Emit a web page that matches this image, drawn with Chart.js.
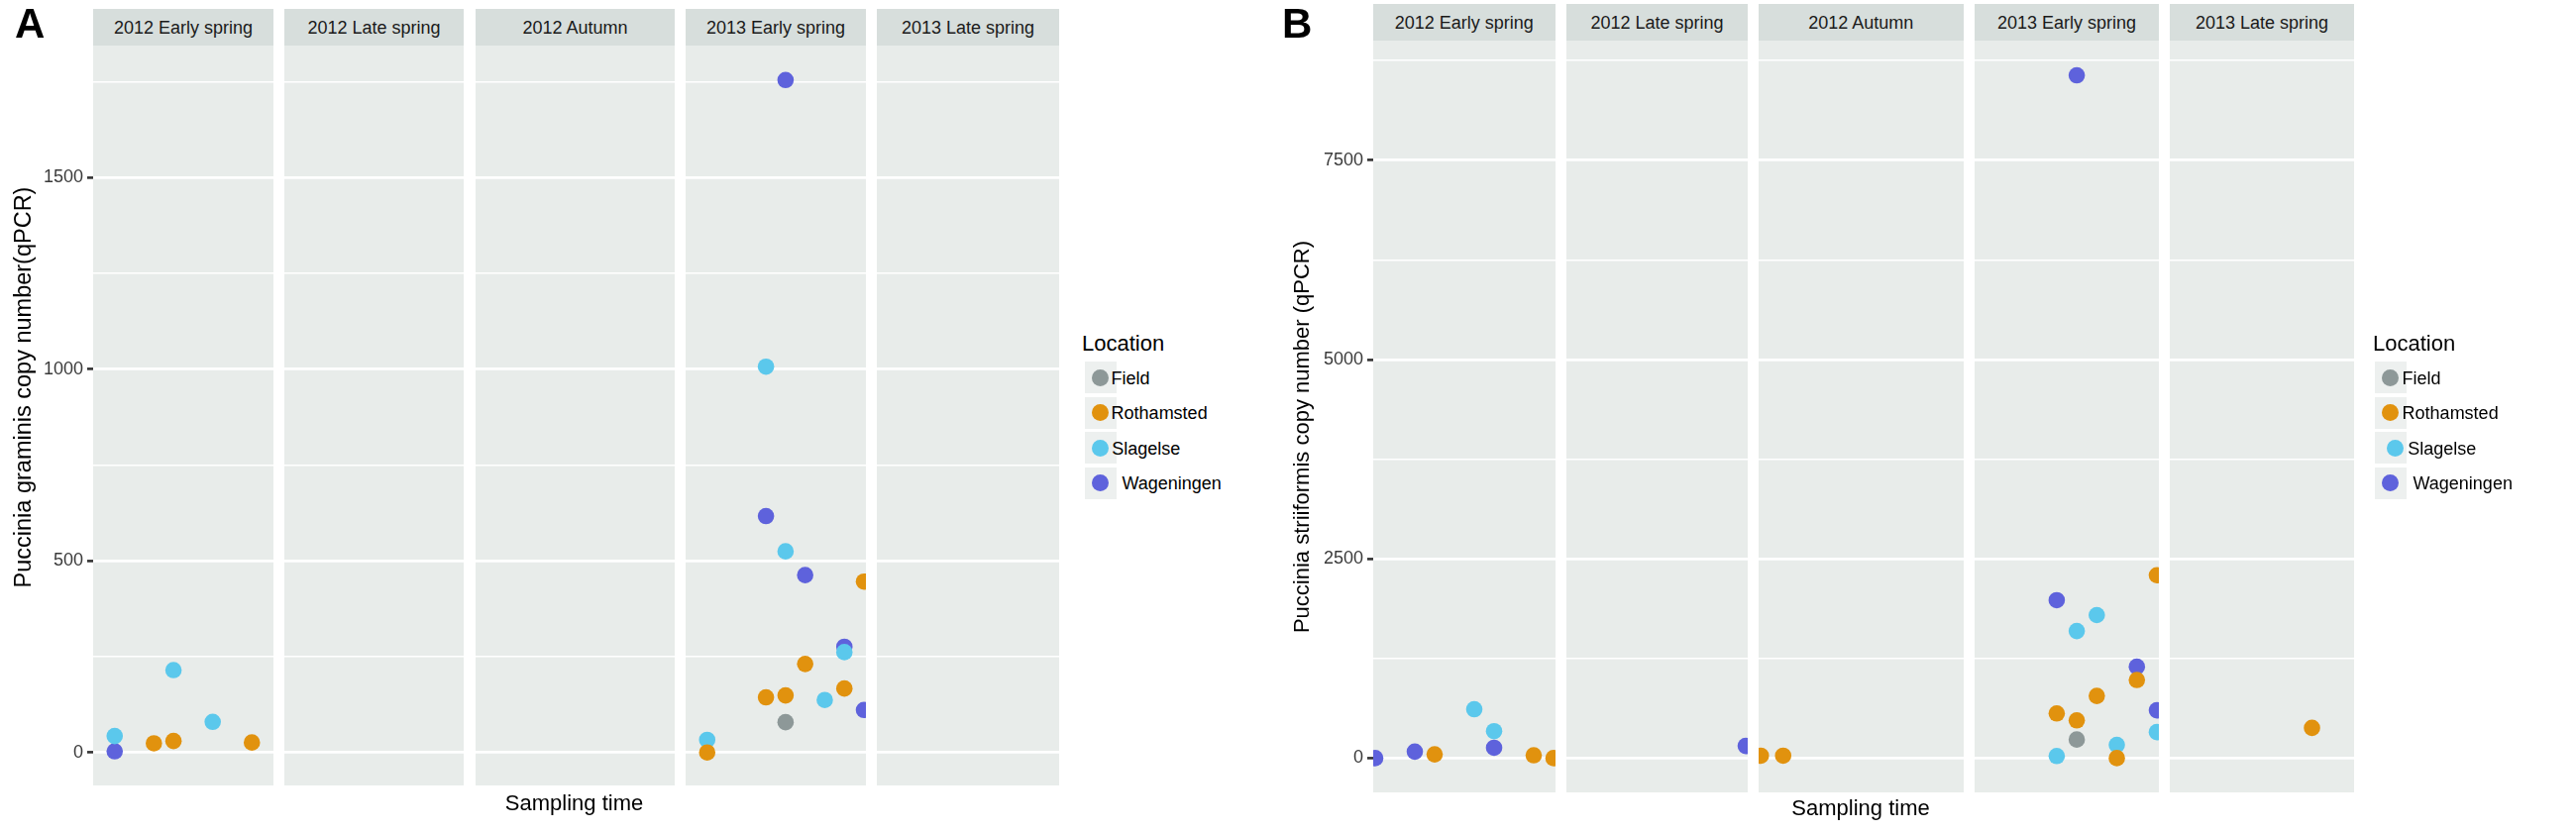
<!DOCTYPE html>
<html>
<head>
<meta charset="utf-8">
<title>Puccinia copy number by sampling time</title>
<script src="https://cdn.jsdelivr.net/npm/chart.js@4.4.1/dist/chart.umd.min.js"></script>
<style>
  html, body { margin: 0; padding: 0; background: #fff; }
  #page { position: relative; width: 2600px; height: 841px; overflow: hidden;
          font-family: "Liberation Sans", Arial, Helvetica, sans-serif; }
  #page canvas { position: absolute; }
  .txt { position: absolute; white-space: nowrap; line-height: 1; color: #000; }
  .strip { position: absolute; background: #d7dedc; color: #1a1a1a; font-size: 18px;
           text-align: center; line-height: 39px; white-space: nowrap; }
  .key { position: absolute; width: 32px; height: 32px; background: #edf0ef; }
  .dot { position: absolute; width: 17px; height: 17px; border-radius: 50%; }
</style>
</head>
<body>
<div id="page"></div>
<script>
const FONT = '"Liberation Sans", Arial, Helvetica, sans-serif';

const samplingTimes = ['2012 Early spring', '2012 Late spring', '2012 Autumn', '2013 Early spring', '2013 Late spring'];
const locations = ['Field', 'Rothamsted', 'Slagelse', 'Wageningen'];
const locationColors = ['#8d9898', '#e1920e', '#5bc8ec', '#5e62dc'];

// Puccinia graminis (A): [sampling time index, sample position, copy number]
const graminisField = [[3, 5, 79]];
const graminisRothamsted = [[0, 3, 24], [0, 4, 30], [0, 8, 26], [3, 1, 0], [3, 4, 144], [3, 5, 149],
                            [3, 6, 231], [3, 8, 167], [3, 9, 446]];
const graminisSlagelse = [[0, 1, 43], [0, 4, 215], [0, 6, 80], [3, 1, 33], [3, 4, 1007], [3, 5, 525],
                          [3, 7, 137], [3, 8, 262]];
const graminisWageningen = [[0, 1, 3], [3, 4, 617], [3, 5, 1755], [3, 6, 463], [3, 8, 276], [3, 9, 111]];
const graminisTicks = [0, 500, 1000, 1500];

// Puccinia striiformis (B)
const striiformisField = [[3, 5, 233]];
const striiformisRothamsted = [[0, 3, 47], [0, 8, 35], [0, 9, 0], [2, 0, 30], [2, 1, 30], [3, 4, 560],
                               [3, 5, 473], [3, 6, 780], [3, 7, 0], [3, 8, 980], [3, 9, 2294], [4, 7, 379]];
const striiformisSlagelse = [[0, 5, 613], [0, 6, 338], [3, 4, 26], [3, 5, 1594], [3, 6, 1794],
                             [3, 7, 166], [3, 9, 326]];
const striiformisWageningen = [[0, 0, 0], [0, 2, 81], [0, 6, 130], [1, 9, 153], [3, 4, 1981],
                               [3, 5, 8565], [3, 8, 1146], [3, 9, 600]];
const striiformisTicks = [0, 2500, 5000, 7500];

const figures = [
  {
    letter: 'A', letterX: 15, letterY: 2.5,
    yTitle: 'Puccinia graminis copy number(qPCR)', yTitleX: 23.8, yTitleY: 391, yTitleSize: 23.5,
    series: [graminisField, graminisRothamsted, graminisSlagelse, graminisWageningen],
    ticks: graminisTicks, yMin: -86, yMax: 1845,
    stripTop: 9, top: 46, bottom: 793,
    panels: [[94, 276], [287, 468], [480, 681], [692, 874], [885, 1069]],
    xTitleX: 579.5, xTitleTop: 800,
    legendTitleX: 1092, keyX: 1095,
    dotX: [1110, 1110, 1110, 1110], textX: [1121.6, 1121.6, 1122.2, 1132.4]
  },
  {
    letter: 'B', letterX: 1294, letterY: 2.5,
    yTitle: 'Puccinia striiformis copy number (qPCR)', yTitleX: 1314, yTitleY: 441, yTitleSize: 22,
    series: [striiformisField, striiformisRothamsted, striiformisSlagelse, striiformisWageningen],
    ticks: striiformisTicks, yMin: -430, yMax: 9000,
    stripTop: 4.3, top: 41.3, bottom: 800.4,
    panels: [[1385.7, 1569.3], [1581, 1764.3], [1774.8, 1982], [1993, 2179], [2190, 2376.4]],
    xTitleX: 1878, xTitleTop: 804.5,
    legendTitleX: 2395, keyX: 2397,
    dotX: [2412.7, 2412.7, 2417.7, 2412.7], textX: [2424.6, 2424.6, 2430.2, 2435.5]
  }
];

const legendRows = [381, 416.5, 452, 487.5];
const M = 20;        // margin round each chart area so nothing pads it
const AXIS_W = 70;   // room for the y tick labels on the first panel

const page = document.getElementById('page');

function addText(text, x, y, size, extra) {
  const d = document.createElement('div');
  d.className = 'txt';
  d.textContent = text;
  d.style.left = x + 'px';
  d.style.top = y + 'px';
  d.style.fontSize = size + 'px';
  if (extra) Object.assign(d.style, extra);
  page.appendChild(d);
  return d;
}

const panelBackground = {
  id: 'panelBackground',
  beforeDraw(chart) {
    const { ctx, chartArea: a } = chart;
    ctx.save();
    ctx.fillStyle = '#e8ecea';
    ctx.fillRect(a.left, a.top, a.right - a.left, a.bottom - a.top);
    ctx.restore();
  }
};

function drawPanel(fig, p) {
  const [x0, x1] = fig.panels[p];
  const first = p === 0;
  const axisW = first ? AXIS_W : 0;
  const w = Math.round(x1 - x0), h = Math.round(fig.bottom - fig.top);

  // strip label
  const strip = document.createElement('div');
  strip.className = 'strip';
  strip.textContent = samplingTimes[p];
  strip.style.left = x0 + 'px';
  strip.style.width = w + 'px';
  strip.style.top = fig.stripTop + 'px';
  strip.style.height = (fig.top - fig.stripTop) + 'px';
  page.appendChild(strip);

  const canvas = document.createElement('canvas');
  canvas.width = w + axisW + 2 * M;
  canvas.height = h + 2 * M;
  canvas.style.left = (x0 - axisW - M) + 'px';
  canvas.style.top = (fig.top - M) + 'px';
  page.appendChild(canvas);

  // major breaks from the tick list, minor ones half way between
  const half = (fig.ticks[1] - fig.ticks[0]) / 2;
  const gridValues = fig.ticks.flatMap(t => [t, t + half]).filter(v => v <= fig.yMax);
  const isMajor = v => fig.ticks.includes(v);

  new Chart(canvas, {
    type: 'scatter',
    data: {
      datasets: locations.map((name, i) => ({
        label: name,
        data: fig.series[i].filter(d => d[0] === p).map(d => ({ x: d[1], y: d[2] })),
        backgroundColor: locationColors[i],
        borderWidth: 0,
        pointRadius: 8.3,
        pointHoverRadius: 8.3
      }))
    },
    options: {
      responsive: false,
      animation: false,
      events: [],
      layout: { padding: M, autoPadding: false },
      plugins: { legend: { display: false }, tooltip: { enabled: false } },
      scales: {
        x: { type: 'linear', min: -0.1, max: 9.1, display: false },
        y: {
          min: fig.yMin,
          max: fig.yMax,
          afterBuildTicks(scale) { scale.ticks = gridValues.map(v => ({ value: v })); },
          afterFit(scale) { scale.width = axisW; },
          border: { display: false },
          ticks: {
            display: first,
            autoSkip: false,
            padding: 4,
            color: '#3a3a3a',
            font: { family: FONT, size: 18 },
            callback: v => isMajor(v) ? String(v) : ''
          },
          grid: {
            color: '#ffffff',
            lineWidth: c => isMajor(c.tick.value) ? 2.8 : 1.4,
            drawTicks: first,
            tickLength: 6,
            tickWidth: 2.6,
            tickColor: c => isMajor(c.tick.value) ? '#333333' : 'rgba(0,0,0,0)'
          }
        }
      }
    },
    plugins: [panelBackground]
  });
}

figures.forEach(fig => {
  fig.panels.forEach((_, p) => drawPanel(fig, p));

  addText(fig.letter, fig.letterX, fig.letterY, 42, { fontWeight: 'bold' });

  addText(fig.yTitle, fig.yTitleX, fig.yTitleY, fig.yTitleSize,
          { transform: 'translate(-50%, -50%) rotate(-90deg)' });

  addText('Sampling time', fig.xTitleX, fig.xTitleTop, 22, { transform: 'translateX(-50%)' });

  // legend
  addText('Location', fig.legendTitleX, 335.5, 22);
  locations.forEach((name, i) => {
    const cy = legendRows[i];
    const key = document.createElement('div');
    key.className = 'key';
    key.style.left = fig.keyX + 'px';
    key.style.top = (cy - 16) + 'px';
    page.appendChild(key);

    const dot = document.createElement('div');
    dot.className = 'dot';
    dot.style.background = locationColors[i];
    dot.style.left = (fig.dotX[i] - 8.5) + 'px';
    dot.style.top = (cy - 8.5) + 'px';
    page.appendChild(dot);

    addText(name, fig.textX[i], cy - 8.1, 18);
  });
});
</script>
</body>
</html>
